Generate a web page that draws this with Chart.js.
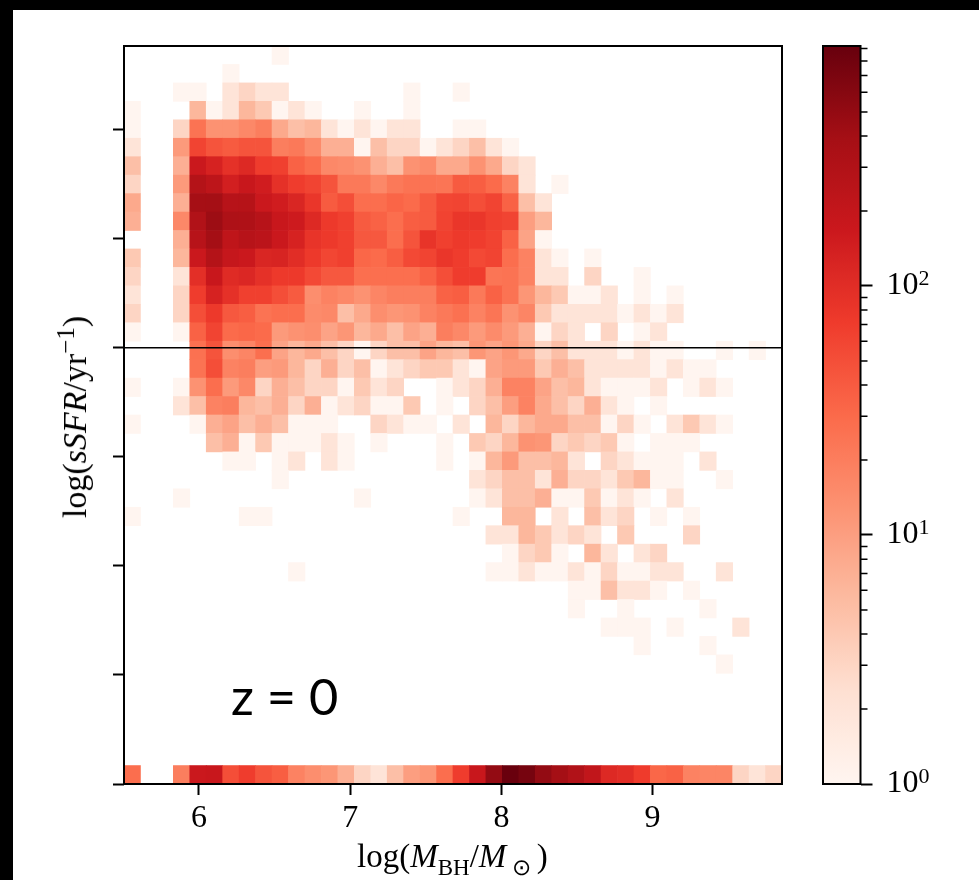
<!DOCTYPE html>
<html>
<head>
<meta charset="utf-8">
<title>sSFR vs black hole mass, z = 0</title>
<script src="https://cdn.jsdelivr.net/npm/chart.js@4"></script>
<style>
  html, body { margin: 0; padding: 0; background: #000; }
  #page { position: absolute; left: 13px; top: 10px; width: 966px; height: 870px; background: #fff; overflow: hidden; }
  canvas { position: absolute; top: 0; }
  #heatmap { left: 0; }
  #colorbar { left: 792px; }
  .label { position: absolute; white-space: nowrap; color: #000; font-family: "Liberation Serif", serif; font-size: 33px; line-height: 38px; }
  .label sub, .label sup { font-size: 23px; line-height: 0; }
  #x-title { left: 344px; top: 827px; }
  #y-title { left: 62px; top: 407px; font-size: 34px; transform: translate(-50%, -50%) rotate(-90deg); }
  #y-title sup { font-size: 25px; }
  #redshift { left: 218px; top: 656px; font-family: Lato, sans-serif; font-size: 50.5px; line-height: 60px; }
</style>
</head>
<body>
<div id="page">
  <canvas id="heatmap" width="792" height="870"></canvas>
  <canvas id="colorbar" width="174" height="870"></canvas>
  <div class="label" id="x-title">log(<i>M</i><sub>BH</sub>/<i>M</i><sub>&nbsp;⊙&nbsp;</sub>)</div>
  <div class="label" id="y-title">log(<i>sSFR</i>/yr<sup>−1</sup>)</div>
  <div class="label" id="redshift">z = 0</div>
</div>
<script>
const xMin = 5.504;
const xMax = 9.856;
const yMin = -15;
const yMax = -8.234;
const vMin = 1;
const vMax = 920;
const xTicks = [6, 7, 8, 9];
const yTicks = [-15, -14, -13, -12, -11, -10, -9];
const quenchLine = -11;
const cbMajorTicks = [1, 10, 100];
const cbMinorTicks = [2, 3, 4, 5, 6, 7, 8, 9, 20, 30, 40, 50, 60, 70, 80, 90, 200, 300, 400, 500, 600, 700, 800, 900];
const cbExponents = { 1: '0', 10: '1', 100: '2' };

// matplotlib Reds
const reds = ['#fff5f0', '#fee0d2', '#fcbba1', '#fc9272', '#fb6a4a', '#ef3b2c', '#cb181d', '#a50f15', '#67000d'];

// counts per cell, top row first, 40 mass bins per row
const counts = [
  [0,0,0,0,0,0,0,0,0,1, 0,0,0,0,0,0,0,0,0,0, 0,0,0,0,0,0,0,0,0,0, 0,0,0,0,0,0,0,0,0,0],
  [0,0,0,0,0,0,1,0,0,0, 0,0,0,0,0,0,0,0,0,0, 0,0,0,0,0,0,0,0,0,0, 0,0,0,0,0,0,0,0,0,0],
  [0,0,0,1,1,0,2,3,2,2, 0,0,0,0,0,0,0,1,0,0, 1,0,0,0,0,0,0,0,0,0, 0,0,0,0,0,0,0,0,0,0],
  [1,0,0,0,6,1,2,6,4,1, 2,1,0,0,1,0,0,1,0,0, 0,0,0,0,0,0,0,0,0,0, 0,0,0,0,0,0,0,0,0,0],
  [1,0,0,3,25,13,13,16,20,8, 5,6,2,1,2,1,2,2,0,0, 1,1,0,0,0,0,0,0,0,0, 0,0,0,0,0,0,0,0,0,0],
  [2,0,0,11,60,45,40,45,45,20, 22,15,7,7,1,5,3,3,1,2, 3,5,2,1,0,0,0,0,0,0, 0,0,0,0,0,0,0,0,0,0],
  [5,0,0,7,170,130,90,110,70,65, 35,28,16,15,13,7,5,13,15,8, 8,13,8,3,2,0,0,0,0,0, 0,0,0,0,0,0,0,0,0,0],
  [3,0,0,11,280,230,140,180,150,90, 70,60,45,22,22,16,22,25,25,24, 40,38,30,18,2,0,1,0,0,0, 0,0,0,0,0,0,0,0,0,0],
  [8,0,0,7,380,390,260,270,170,150, 120,80,40,50,28,28,33,30,40,58, 60,50,60,35,5,2,0,0,0,0, 0,0,0,0,0,0,0,0,0,0],
  [7,0,0,16,300,440,320,310,260,180, 160,110,75,65,40,35,28,38,40,62, 80,80,65,60,10,6,0,0,0,0, 0,0,0,0,0,0,0,0,0,0],
  [0,0,0,7,260,390,220,260,240,170, 130,85,75,65,42,42,28,45,85,65, 75,70,62,35,9,1,0,0,0,0, 0,0,0,0,0,0,0,0,0,0],
  [4,0,0,6,170,280,190,170,120,125, 100,75,58,65,32,30,38,55,60,80, 70,55,60,28,18,2,1,0,1,0, 0,0,0,0,0,0,0,0,0,0],
  [3,0,0,2,95,180,105,115,90,75, 75,55,42,42,27,27,27,27,35,50, 70,70,24,25,18,2,2,0,3,0, 0,1,0,0,0,0,0,0,0,0],
  [2,0,0,3,70,130,90,65,65,50, 40,14,18,16,13,17,20,20,20,35, 38,22,35,25,12,6,4,1,1,2, 0,1,0,1,0,0,0,0,0,0],
  [3,0,0,3,50,75,42,38,25,28, 28,15,16,5,8,14,12,13,18,22, 26,18,24,13,17,4,2,2,2,2, 1,2,1,2,0,0,0,0,0,0],
  [1,0,0,1,35,60,30,32,30,11, 13,14,9,12,6,8,5,9,7,20, 16,11,15,11,7,1,3,2,0,3, 0,1,2,0,0,0,0,0,0,0],
  [0,0,0,0,26,45,14,17,27,9, 6,8,5,3,1,3,5,5,9,6, 5,12,9,12,8,3,5,2,2,2, 1,2,1,1,0,0,1,0,1,0],
  [0,0,0,0,25,50,18,20,10,11, 6,3,7,3,5,1,2,3,4,4, 2,1,9,11,11,4,7,5,2,2, 2,2,1,2,1,1,0,0,0,0],
  [1,0,0,1,13,28,11,16,3,7, 5,3,3,1,4,2,3,0,0,1, 2,3,7,18,18,9,5,6,2,1, 1,1,2,0,1,2,1,0,0,0],
  [0,0,0,2,5,18,20,6,5,7, 3,7,1,2,3,1,1,4,0,1, 0,3,5,10,18,8,5,3,7,2, 1,0,1,0,0,0,0,0,0,0],
  [1,0,0,0,1,7,9,5,7,5, 1,1,1,0,0,3,2,1,1,0, 2,0,6,3,6,8,8,5,5,1, 3,1,0,2,4,2,1,0,0,0],
  [0,0,0,0,0,5,7,1,4,1, 1,1,2,1,0,1,0,0,0,1, 0,4,3,6,13,12,3,4,3,4, 1,0,1,1,1,0,0,0,0,0],
  [0,0,0,0,0,0,1,1,0,1, 2,0,2,1,0,0,0,0,0,1, 0,1,6,11,5,5,6,2,0,3, 2,1,1,1,0,2,0,0,0,0],
  [0,0,0,0,0,0,0,0,0,1, 0,0,0,0,0,0,0,0,0,0, 0,2,3,5,5,2,7,3,3,2, 4,6,1,1,0,0,1,0,0,0],
  [0,0,0,1,0,0,0,0,0,0, 0,0,0,0,1,0,0,0,0,0, 0,1,2,5,5,7,1,1,4,1, 2,1,0,2,0,0,0,0,0,0],
  [1,0,0,0,0,0,0,1,1,0, 0,0,0,0,0,0,0,0,0,0, 1,0,0,6,6,0,2,0,5,2, 3,0,1,0,1,0,0,0,0,0],
  [0,0,0,0,0,0,0,0,0,0, 0,0,0,0,0,0,0,0,0,0, 0,0,2,2,6,4,2,3,2,0, 4,0,0,0,3,0,0,0,0,0],
  [0,0,0,0,0,0,0,0,0,0, 0,0,0,0,0,0,0,0,0,0, 0,0,0,1,3,4,1,0,6,2, 0,2,3,0,0,0,0,0,0,0],
  [0,0,0,0,0,0,0,0,0,0, 1,0,0,0,0,0,0,0,0,0, 0,0,1,1,2,1,1,2,1,3, 1,1,2,2,0,0,2,0,0,0],
  [0,0,0,0,0,0,0,0,0,0, 0,0,0,0,0,0,0,0,0,0, 0,0,0,0,0,0,0,1,1,5, 2,2,1,0,1,0,0,0,0,0],
  [0,0,0,0,0,0,0,0,0,0, 0,0,0,0,0,0,0,0,0,0, 0,0,0,0,0,0,0,1,0,0, 1,0,0,0,0,1,0,0,0,0],
  [0,0,0,0,0,0,0,0,0,0, 0,0,0,0,0,0,0,0,0,0, 0,0,0,0,0,0,0,0,0,1, 1,1,0,1,0,0,0,2,0,0],
  [0,0,0,0,0,0,0,0,0,0, 0,0,0,0,0,0,0,0,0,0, 0,0,0,0,0,0,0,0,0,0, 0,1,0,0,0,1,0,0,0,0],
  [0,0,0,0,0,0,0,0,0,0, 0,0,0,0,0,0,0,0,0,0, 0,0,0,0,0,0,0,0,0,0, 0,0,0,0,0,0,1,0,0,0],
  [0,0,0,0,0,0,0,0,0,0, 0,0,0,0,0,0,0,0,0,0, 0,0,0,0,0,0,0,0,0,0, 0,0,0,0,0,0,0,0,0,0],
  [0,0,0,0,0,0,0,0,0,0, 0,0,0,0,0,0,0,0,0,0, 0,0,0,0,0,0,0,0,0,0, 0,0,0,0,0,0,0,0,0,0],
  [0,0,0,0,0,0,0,0,0,0, 0,0,0,0,0,0,0,0,0,0, 0,0,0,0,0,0,0,0,0,0, 0,0,0,0,0,0,0,0,0,0],
  [0,0,0,0,0,0,0,0,0,0, 0,0,0,0,0,0,0,0,0,0, 0,0,0,0,0,0,0,0,0,0, 0,0,0,0,0,0,0,0,0,0],
  [0,0,0,0,0,0,0,0,0,0, 0,0,0,0,0,0,0,0,0,0, 0,0,0,0,0,0,0,0,0,0, 0,0,0,0,0,0,0,0,0,0],
  [28,0,0,20,170,180,50,70,45,38, 18,14,12,7,3,2,5,10,12,28, 70,180,500,900,750,500,390,300,210,110, 100,72,32,35,18,17,17,3,2,3],
];

function hexToRgb(hex) {
  return [1, 3, 5].map(i => parseInt(hex.slice(i, i + 2), 16));
}

// t in 0..1, linear between the colormap anchors
function redsColor(t) {
  const pos = Math.min(Math.max(t, 0), 1) * (reds.length - 1);
  const i = Math.min(Math.floor(pos), reds.length - 2);
  const a = hexToRgb(reds[i]);
  const b = hexToRgb(reds[i + 1]);
  const c = a.map((v, k) => Math.round(v + (b[k] - v) * (pos - i)));
  return `rgb(${c[0]},${c[1]},${c[2]})`;
}

function countColor(v) {
  return redsColor(Math.log10(v / vMin) / Math.log10(vMax / vMin));
}

const binW = (xMax - xMin) / 40;
const binH = (yMax - yMin) / 40;

const cells = [];
counts.forEach((row, r) => {
  row.forEach((v, c) => {
    if (v > 0) {
      cells.push({ x: xMin + (c + 0.5) * binW, y: [yMax - (r + 1) * binH, yMax - r * binH], v });
    }
  });
});

// spines on all four sides, colorbar minor ticks and exponents
const framePlugin = {
  id: 'frame',
  afterDraw(chart, args, opts) {
    const { ctx, chartArea: a } = chart;
    ctx.save();
    ctx.strokeStyle = '#000';
    ctx.lineWidth = 2;
    ctx.strokeRect(a.left, a.top, a.right - a.left, a.bottom - a.top);
    if (opts.minorTicks) {
      ctx.lineWidth = 1.5;
      ctx.beginPath();
      opts.minorTicks.forEach(v => {
        const y = chart.scales.y.getPixelForValue(v);
        ctx.moveTo(a.right, y);
        ctx.lineTo(a.right + 7, y);
      });
      ctx.stroke();
    }
    if (opts.exponents) {
      ctx.fillStyle = '#000';
      ctx.font = '22px "Liberation Serif", serif';
      ctx.textBaseline = 'alphabetic';
      Object.keys(opts.exponents).forEach(v => {
        const y = chart.scales.y.getPixelForValue(Number(v));
        ctx.fillText(opts.exponents[v], a.right + 58, y - 1);
      });
    }
    ctx.restore();
  },
};

const tickFont = { family: '"Liberation Serif", serif', size: 32 };

new Chart(document.getElementById('heatmap'), {
  type: 'bar',
  data: {
    datasets: [
      {
        type: 'line',
        label: 'quenched',
        data: [{ x: xMin, y: quenchLine }, { x: xMax, y: quenchLine }],
        borderColor: '#000',
        borderWidth: 1.4,
        pointRadius: 0,
        order: 0,
      },
      {
        label: 'counts',
        data: cells,
        backgroundColor: c => (c.raw ? countColor(c.raw.v) : '#fff'),
        borderWidth: 0,
        barPercentage: 1,
        categoryPercentage: 1,
        grouped: false,
        order: 1,
      },
    ],
  },
  options: {
    responsive: false,
    animation: false,
    layout: { autoPadding: false, padding: { top: 36, right: 23, bottom: 0, left: 0 } },
    plugins: { legend: { display: false }, tooltip: { enabled: false }, frame: {} },
    scales: {
      x: {
        type: 'linear',
        min: xMin,
        max: xMax,
        offset: false,
        afterBuildTicks: s => { s.ticks = xTicks.map(value => ({ value })); },
        afterFit: s => { s.height = 96; },
        grid: { offset: false, drawOnChartArea: false, tickLength: 11, tickWidth: 2, tickColor: '#000' },
        border: { display: false },
        ticks: { color: '#000', font: tickFont, padding: 4, maxRotation: 0, autoSkip: false, callback: v => String(v) },
      },
      y: {
        type: 'linear',
        min: yMin,
        max: yMax,
        afterBuildTicks: s => { s.ticks = yTicks.map(value => ({ value })); },
        afterFit: s => { s.width = 111; },
        grid: { drawOnChartArea: false, tickLength: 11, tickWidth: 2, tickColor: '#000' },
        border: { display: false },
        ticks: { display: false },
      },
    },
  },
  plugins: [framePlugin],
});

new Chart(document.getElementById('colorbar'), {
  type: 'bar',
  data: {
    labels: [''],
    datasets: [{
      label: 'colorbar',
      data: [[vMin, vMax]],
      barPercentage: 1,
      categoryPercentage: 1,
      borderWidth: 0,
      backgroundColor: c => {
        const a = c.chart.chartArea;
        if (!a) return reds[4];
        const g = c.chart.ctx.createLinearGradient(0, a.bottom, 0, a.top);
        for (let i = 0; i <= 32; i++) g.addColorStop(i / 32, redsColor(i / 32));
        return g;
      },
    }],
  },
  options: {
    responsive: false,
    animation: false,
    layout: { autoPadding: false, padding: { top: 36, right: 0, bottom: 96, left: 18 } },
    plugins: { legend: { display: false }, tooltip: { enabled: false }, frame: { minorTicks: cbMinorTicks, exponents: cbExponents } },
    scales: {
      x: { display: false },
      y: {
        type: 'logarithmic',
        position: 'right',
        min: vMin,
        max: vMax,
        afterBuildTicks: s => { s.ticks = cbMajorTicks.map(value => ({ value, major: true })); },
        afterFit: s => { s.width = 118.5; },
        grid: { drawOnChartArea: false, tickLength: 12, tickWidth: 2, tickColor: '#000' },
        border: { display: false },
        ticks: { color: '#000', font: tickFont, padding: 14, autoSkip: false, callback: () => '10' },
      },
    },
  },
  plugins: [framePlugin],
});
</script>
</body>
</html>
